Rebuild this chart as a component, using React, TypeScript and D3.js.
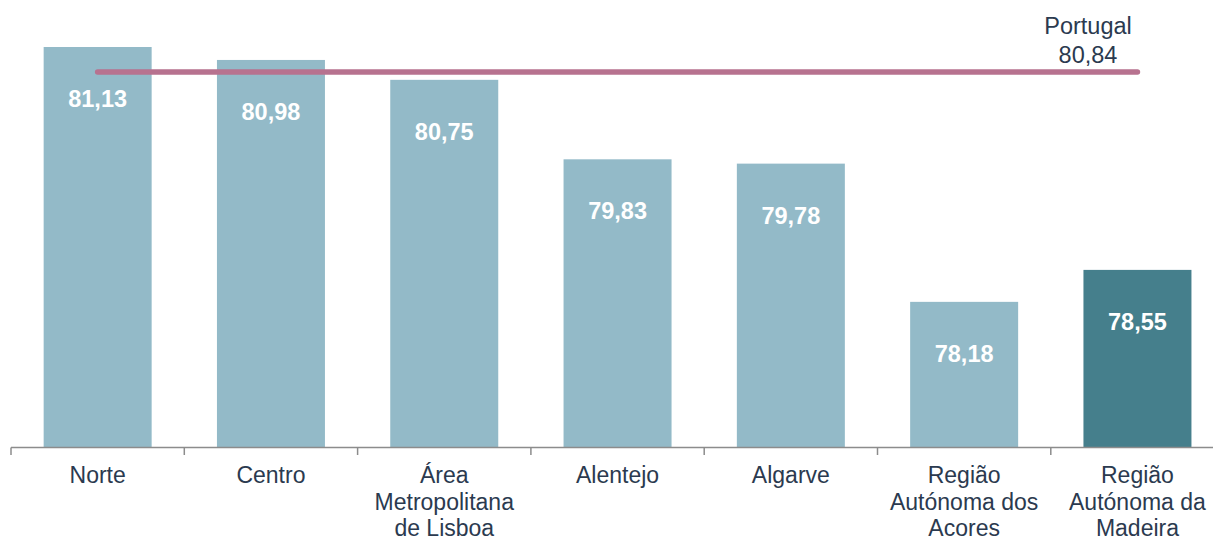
import React from "react";
import * as d3 from "d3";

const categories: string[][] = [
  ["Norte"],
  ["Centro"],
  ["Área", "Metropolitana", "de Lisboa"],
  ["Alentejo"],
  ["Algarve"],
  ["Região", "Autónoma dos", "Acores"],
  ["Região", "Autónoma da", "Madeira"],
];
const values = [81.13, 80.98, 80.75, 79.83, 79.78, 78.18, 78.55];
const labels = ["81,13", "80,98", "80,75", "79,83", "79,78", "78,18", "78,55"];
const highlight = [false, false, false, false, false, false, true];
const portugalValue = 80.84;
const portugalLabel = ["Portugal", "80,84"];

export default function App() {
  const W = 1213, H = 541;
  const step = 173.3;
  const x = d3
    .scaleBand<number>()
    .domain(d3.range(values.length))
    .range([11, 11 + step * values.length])
    .paddingInner(1 - 108 / step)
    .paddingOuter((1 - 108 / step) / 2);
  const y = d3.scaleLinear().domain([76.5, 81.13]).range([447, 47]);
  const font = "Arial, 'Liberation Sans', sans-serif";
  const textColor = "#2B3A4F";
  const cx = (i: number) => (x(i) as number) + x.bandwidth() / 2;
  return (
    <svg width={W} height={H} style={{ position: "absolute", left: 0, top: 0 }} fontFamily={font}>
      {values.map((v, i) => (
        <g key={i}>
          <rect x={x(i)} y={y(v)} width={x.bandwidth()} height={y(76.5) - y(v)} fill={highlight[i] ? "#457F8C" : "#93BAC8"} />
          <text x={cx(i)} y={y(v) + 60} textAnchor="middle" fill="#fff" fontWeight="bold" fontSize={23.5}>{labels[i]}</text>
        </g>
      ))}
      <line x1={11} x2={W} y1={447.5} y2={447.5} stroke="#8C8C8C" strokeWidth={1.5} />
      {d3.range(values.length + 1).map(i => (
        <line key={i} x1={11 + i * step} x2={11 + i * step} y1={447.5} y2={455} stroke="#8C8C8C" strokeWidth={1.5} />
      ))}
      {categories.map((lines, i) => (
        <text key={i} textAnchor="middle" fill={textColor} fontSize={23}>
          {lines.map((l, j) => (
            <tspan key={j} x={cx(i)} y={483 + j * 26.5}>{l}</tspan>
          ))}
        </text>
      ))}
      <line x1={cx(0)} x2={cx(values.length - 1)} y1={y(portugalValue)} y2={y(portugalValue)} stroke="#B7728F" strokeWidth={5.5} strokeLinecap="round" />
      <text textAnchor="middle" fill={textColor} fontSize={23.5}>
        {portugalLabel.map((l, j) => (
          <tspan key={j} x={1088} y={34 + j * 28.5}>{l}</tspan>
        ))}
      </text>
    </svg>
  );
}
